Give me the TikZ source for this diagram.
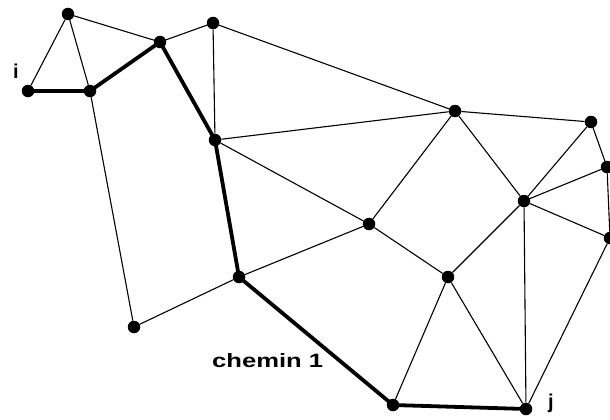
\documentclass[tikz,border=0pt]{standalone}
\usepackage{fontspec}
\setmainfont{Liberation Sans}
\begin{document}
\begin{tikzpicture}[x=1pt,y=-1pt,
  dot/.style={circle,fill=black,draw=none,inner sep=0pt,minimum size=12.5pt},
  edge/.style={draw=black,line width=1.1pt},
  pathedge/.style={draw=black,line width=3.8pt,line join=round},
  lbl/.style={inner sep=0pt,font=\fontsize{20}{20}\selectfont\bfseries}]
\useasboundingbox (0,0) rectangle (610,420);
\node[dot] (A) at (68,14) {};
\node[dot] (i) at (28,91) {};
\node[dot] (B) at (90,91) {};
\node[dot] (C) at (160,42) {};
\node[dot] (D) at (213,23) {};
\node[dot] (E) at (215,140) {};
\node[dot] (F) at (455,111) {};
\node[dot] (G) at (591,122) {};
\node[dot] (H) at (607,167) {};
\node[dot] (I) at (610,238) {};
\node[dot] (J) at (524,201) {};
\node[dot] (K) at (369,224) {};
\node[dot] (L) at (448,277) {};
\node[dot] (M) at (239,277) {};
\node[dot] (N) at (134,327) {};
\node[dot] (O) at (393,405) {};
\node[dot] (j) at (526,409) {};

\draw[edge] (A) -- (i);
\draw[edge] (A) -- (B);
\draw[edge] (A) -- (C);
\draw[edge] (B) -- (N);
\draw[edge] (C) -- (D);
\draw[edge] (D) -- (E);
\draw[edge] (D) -- (F);
\draw[edge] (E) -- (F);
\draw[edge] (E) -- (K);
\draw[edge] (M) -- (N);
\draw[edge] (M) -- (K);
\draw[edge] (K) -- (F);
\draw[edge] (K) -- (L);
\draw[edge] (F) -- (G);
\draw[edge] (F) -- (J);
\draw[edge] (G) -- (J);
\draw[edge] (G) -- (H);
\draw[edge] (H) -- (J);
\draw[edge] (H) -- (I);
\draw[edge] (J) -- (I);
\draw[edge] (J) -- (L);
\draw[edge] (J) -- (j);
\draw[edge] (I) -- (j);
\draw[edge] (L) -- (O);
\draw[edge] (L) -- (j);

\draw[pathedge] (i.center) -- (B.center) -- (C.center) -- (E.center) -- (M.center) -- (O.center) -- (j.center);

\node[lbl,anchor=base] (li) at (16,78) {i};
\node[lbl,anchor=base] (lj) at (551,408) {j};
\node[inner sep=0pt,anchor=base west] (lc) at (212,367)
  {\resizebox{111pt}{14pt}{\bfseries chemin 1}};
\end{tikzpicture}
\end{document}
